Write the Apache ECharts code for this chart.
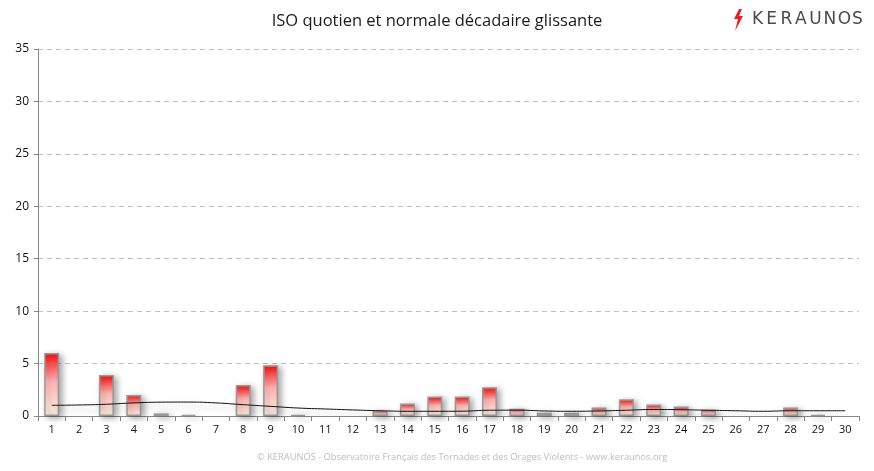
<!DOCTYPE html>
<html><head><meta charset="utf-8">
<script src="https://cdn.jsdelivr.net/npm/echarts@6/dist/echarts.min.js"></script>
<style>html,body{margin:0;padding:0;background:#fff}#c{width:874px;height:471px}</style>
</head><body><div id="c"></div>
<script>
const categories = ['1','2','3','4','5','6','7','8','9','10','11','12','13','14','15','16','17','18','19','20','21','22','23','24','25','26','27','28','29','30'];
const isoValues = [6.0,0,3.9,2.0,0.25,0.1,0,2.95,4.85,0.1,0,0,0.5,1.2,1.85,1.85,2.75,0.7,0.3,0.3,0.8,1.6,1.1,0.9,0.6,0,0,0.8,0.1,0];
const normaleValues = [1.02,1.05,1.12,1.25,1.32,1.33,1.25,1.08,0.92,0.76,0.67,0.58,0.5,0.45,0.45,0.46,0.55,0.56,0.48,0.45,0.48,0.55,0.62,0.6,0.55,0.5,0.45,0.5,0.5,0.5];
const yTicks = [0,5,10,15,20,25,30,35];
const logoLetters = ['K','E','R','A','U','N','O','S'];

const chart = echarts.init(document.getElementById('c'));
const logoGraphics = logoLetters.map((ch,i)=>({type:'text',left:752+i*14.3,top:11,
  style:{text:ch,font:'17px "DejaVu Sans"',fill:'#4a4a4a'}}));
chart.setOption({
  animation:false,
  backgroundColor:'#fff',
  title:{text:'ISO quotien et normale décadaire glissante',left:'center',top:8,
    textStyle:{fontFamily:'Open Sans',fontSize:16.5,fontWeight:'normal',color:'#1a1a1a'}},
  grid:{left:38,right:15,top:49,bottom:55},
  xAxis:{type:'category',data:categories,boundaryGap:true,
    axisLine:{lineStyle:{color:'#888'}},
    axisTick:{show:true,length:5,lineStyle:{color:'#888'}},
    axisLabel:{color:'#111',fontFamily:'Open Sans',fontSize:11,margin:8}},
  yAxis:{type:'value',min:yTicks[0],max:yTicks[yTicks.length-1],interval:5,
    axisLine:{show:true,lineStyle:{color:'#888'}},
    axisTick:{show:true,length:4,lineStyle:{color:'#888'}},
    axisLabel:{color:'#111',fontFamily:'Open Sans',fontSize:12,margin:9},
    splitLine:{lineStyle:{color:'#c0c0c0',type:[5,4]}}},
  series:[
    {type:'bar',data:isoValues.map(v=>v===0?null:v),barWidth:15,
      itemStyle:{
        color:new echarts.graphic.LinearGradient(0,0,0,1,[{offset:0,color:'#ff1010'},{offset:0.45,color:'#ffb4b4'},{offset:1,color:'#fff4e4'}]),
        borderColor:'#999',borderWidth:1.5,
        shadowColor:'rgba(0,0,0,0.35)',shadowBlur:6,shadowOffsetX:3,shadowOffsetY:2}},
    {type:'line',data:normaleValues,smooth:true,symbol:'none',z:3,
      lineStyle:{color:'#111',width:1,shadowColor:'rgba(0,0,0,0.3)',shadowBlur:7,shadowOffsetY:4}}
  ],
  graphic:[
    {type:'polygon',left:734,top:9,shape:{points:[[6,0],[1,10],[5,10],[2,22],[10,7],[6,7],[9,0]]},style:{fill:'#e52222'}},
    ...logoGraphics,
    {type:'text',left:257,top:453,style:{text:'© KERAUNOS - Observatoire Français des Tornades et des Orages Violents - www.keraunos.org',font:'9.3px "Open Sans"',fill:'#bcbcbc'}}
  ]
});
</script></body></html>
